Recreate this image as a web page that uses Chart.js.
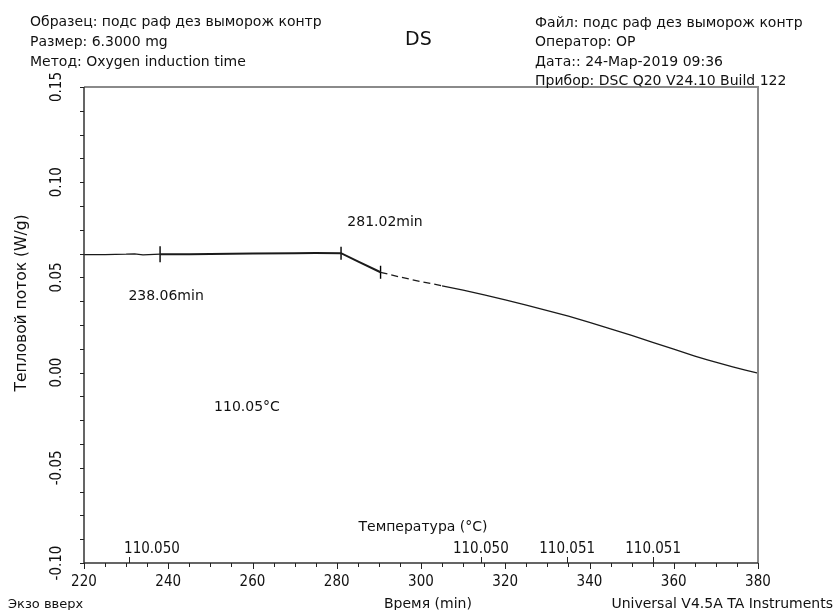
<!DOCTYPE html>
<html>
<head>
<meta charset="utf-8">
<script src="https://cdn.jsdelivr.net/npm/chart.js@4.4.1/dist/chart.umd.min.js"></script>
<style>
  body { margin: 0; background: #fff; }
  #wrap { position: relative; width: 837px; height: 610px; overflow: hidden; }
  #chart { position: absolute; left: 0; top: 0; }
  .t { position: absolute; font-family: "DejaVu Sans", sans-serif; font-size: 14px; color: #111; white-space: nowrap; line-height: 15px; }
  .title { font-size: 19px; }
</style>
</head>
<body>
<div id="wrap">
  <canvas id="chart" width="837" height="610"></canvas>
  <div class="t" style="left:30px;top:14px">Образец: подс раф дез выморож контр</div>
  <div class="t" style="left:30px;top:34px">Размер:  6.3000 mg</div>
  <div class="t" style="left:30px;top:54px">Метод: Oxygen induction time</div>
  <div class="t title" style="left:405px;top:31px">DS</div>
  <div class="t" style="left:535px;top:15px">Файл: подс раф дез выморож контр</div>
  <div class="t" style="left:535px;top:34px">Оператор: OP</div>
  <div class="t" style="left:535px;top:54px">Дата:: 24-Мар-2019 09:36</div>
  <div class="t" style="left:535px;top:73px">Прибор: DSC Q20 V24.10 Build 122</div>
  <div class="t" style="left:8px;top:596px;font-size:13px">Экзо вверх</div>
  <div class="t" style="left:384px;top:596px">Время (min)</div>
  <div class="t" style="right:4px;top:596px">Universal V4.5A TA Instruments</div>
</div>
<script>
// time (min) and heat flow (W/g)
const timeMin = [220, 225, 230, 232, 234, 238.06, 245, 250, 260, 270, 275, 281.02, 285, 290.4,
  295, 300, 305, 310, 315, 320, 325, 330, 335, 340, 345, 350, 355, 360, 365, 368, 371, 374, 377, 380];
const heatFlow = [0.0620, 0.0620, 0.0622, 0.0624, 0.0618, 0.0622, 0.0622, 0.0623, 0.0625, 0.0627, 0.0628, 0.0627, 0.0584, 0.0527,
  0.0502, 0.0478, 0.0456, 0.0433, 0.0408, 0.0382, 0.0355, 0.0326, 0.0296, 0.0264, 0.0230, 0.0195, 0.0159, 0.0123, 0.0087,
  0.0067, 0.0048, 0.0030, 0.0013, -0.0003];

// analysis markers (onset construction)
const markerTimes = [238.06, 281.02, 290.4];
const markerFlows = [0.0622, 0.0627, 0.0527];
const markerLabels = ["238.06min", "281.02min", ""];

// axis ticks
const timeTicks = [220, 240, 260, 280, 300, 320, 340, 360, 380];
const flowTicks = [-0.10, -0.05, 0.00, 0.05, 0.10, 0.15];

// temperature sub-axis (marks placed on the time axis)
const tempTickTimes = [230.7, 314.2, 334.7, 355.1];
const tempTickLabels = ["110.050", "110.050", "110.051", "110.051"];
const onsetTempLabel = "110.05°C";

const TICK_FONT = '15px "DejaVu Sans Condensed", "DejaVu Sans", sans-serif';
const TEXT_FONT = '14px "DejaVu Sans", sans-serif';
const YTITLE_FONT = '15.5px "DejaVu Sans", sans-serif';
const NOTE_FONT = '14px "DejaVu Sans", sans-serif';

const dscAxes = {
  id: "dscAxes",
  afterDatasetsDraw(chart) {
    const { ctx, chartArea: a, scales: { x, y } } = chart;
    ctx.save();

    // frame: top / right in grey, left / bottom as axes
    ctx.strokeStyle = "#8a8a8a";
    ctx.lineWidth = 2;
    ctx.beginPath();
    ctx.moveTo(a.left, a.top);
    ctx.lineTo(a.right, a.top);
    ctx.lineTo(a.right, a.bottom);
    ctx.stroke();
    ctx.strokeStyle = "#333";
    ctx.lineWidth = 1.5;
    ctx.beginPath();
    ctx.moveTo(a.left, a.top);
    ctx.lineTo(a.left, a.bottom);
    ctx.lineTo(a.right, a.bottom);
    ctx.stroke();

    ctx.lineWidth = 1;
    ctx.strokeStyle = "#222";
    // x ticks, minor every 5 min
    const t0 = timeTicks[0], t1 = timeTicks[timeTicks.length - 1];
    for (let t = t0; t <= t1; t += 5) {
      const px = Math.round(x.getPixelForValue(t)) + 0.5;
      const len = timeTicks.includes(t) ? 6 : 4;
      ctx.beginPath();
      ctx.moveTo(px, a.bottom);
      ctx.lineTo(px, a.bottom + len);
      ctx.stroke();
    }
    // y ticks, minor every 0.0125
    const v0 = flowTicks[0];
    for (let i = 0; i <= 20; i++) {
      const v = v0 + i * 0.0125;
      const py = Math.round(y.getPixelForValue(v)) + 0.5;
      ctx.beginPath();
      ctx.moveTo(a.left, py);
      ctx.lineTo(a.left - 4, py);
      ctx.stroke();
    }
    // temperature marks pointing up
    tempTickTimes.forEach((t) => {
      const px = Math.round(x.getPixelForValue(t)) + 0.5;
      ctx.beginPath();
      ctx.moveTo(px, a.bottom);
      ctx.lineTo(px, a.bottom - 6);
      ctx.stroke();
    });

    ctx.fillStyle = "#111";
    ctx.font = TICK_FONT;
    ctx.textBaseline = "middle";
    ctx.textAlign = "center";
    timeTicks.forEach((t) => {
      ctx.fillText(String(t), x.getPixelForValue(t), a.bottom + 19);
    });
    tempTickTimes.forEach((t, i) => {
      const px = x.getPixelForValue(t);
      const w = ctx.measureText(tempTickLabels[i]).width;
      const cx = i === 0 ? px - 5 + w / 2 : px;
      ctx.fillText(tempTickLabels[i], cx, a.bottom - 14);
    });
    flowTicks.forEach((v) => {
      ctx.save();
      ctx.translate(a.left - 27, y.getPixelForValue(v));
      ctx.rotate(-Math.PI / 2);
      ctx.fillText(v.toFixed(2), 0, 0);
      ctx.restore();
    });

    // axis titles
    ctx.font = YTITLE_FONT;
    ctx.save();
    ctx.translate(22, 303);
    ctx.rotate(-Math.PI / 2);
    ctx.fillText("Тепловой поток (W/g)", 0, 0);
    ctx.restore();
    ctx.font = TEXT_FONT;
    ctx.fillText("Температура (°C)", 423, a.bottom - 36);

    // analysis annotations
    ctx.font = NOTE_FONT;
    const m0x = x.getPixelForValue(markerTimes[0]), m0y = y.getPixelForValue(markerFlows[0]);
    const m1x = x.getPixelForValue(markerTimes[1]), m1y = y.getPixelForValue(markerFlows[1]);
    ctx.fillText(markerLabels[0], m0x + 6, m0y + 42);
    ctx.fillText(markerLabels[1], m1x + 44, m1y - 31);
    ctx.fillText(onsetTempLabel, a.left + 163, y.getPixelForValue(-0.018));

    ctx.restore();
  },
};

const curve = timeMin.map((t, i) => ({ x: t, y: heatFlow[i] }));
const marks = markerTimes.map((t, i) => ({ x: t, y: markerFlows[i] }));

new Chart(document.getElementById("chart"), {
  type: "line",
  data: {
    datasets: [
      {
        label: "Heat flow",
        data: curve,
        borderColor: "#1a1a1a",
        borderWidth: 1.2,
        pointRadius: 0,
        tension: 0,
        segment: {
          borderWidth: (c) => (c.p0.parsed.x >= 238 && c.p0.parsed.x < 290) ? 2 : 1.3,
          borderDash: (c) => (c.p0.parsed.x >= 290 && c.p0.parsed.x < 305) ? [7, 4] : undefined,
        },
      },
      {
        label: "Markers",
        data: marks,
        showLine: false,
        pointStyle: "line",
        rotation: 90,
        pointRadius: [8, 6.5, 6.5],
        borderColor: "#000",
        borderWidth: 1.4,
      },
    ],
  },
  options: {
    responsive: false,
    animation: false,
    layout: { padding: { left: 84, right: 79, top: 87, bottom: 47 } },
    plugins: { legend: { display: false }, tooltip: { enabled: false } },
    scales: {
      x: { type: "linear", display: false, min: 220, max: 380 },
      y: { type: "linear", display: false, min: -0.10, max: 0.15 },
    },
  },
  plugins: [dscAxes],
});
</script>
</body>
</html>
